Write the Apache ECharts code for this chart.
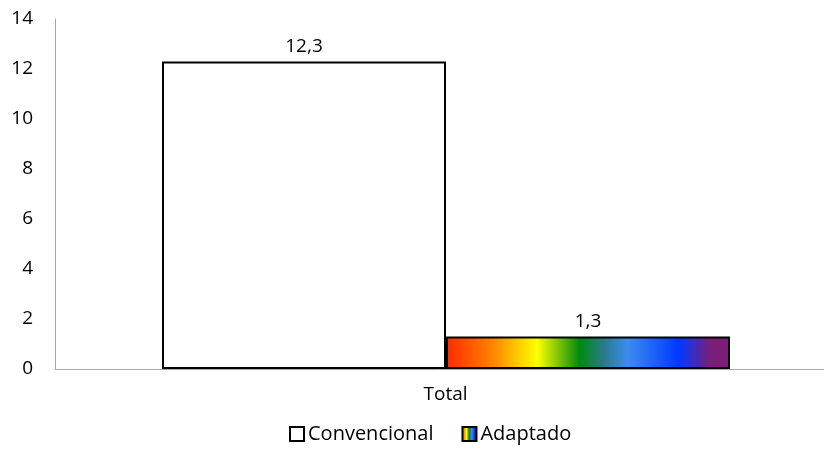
<!DOCTYPE html>
<html><head><meta charset="utf-8">
<script src="https://cdn.jsdelivr.net/npm/echarts@6/dist/echarts.min.js"></script>
<style>html,body{margin:0;padding:0;background:#fff}#c{width:824px;height:450px}</style>
</head><body><div id="c"></div>
<script>
var categories = ['Total'];
var convencional = [12.3];
var adaptado = [1.3];
var seriesNames = ['Convencional', 'Adaptado'];
var spacer = [null];

var rainbow = new echarts.graphic.LinearGradient(0, 0, 1, 0, [
  {offset: 0, color: '#ff2a00'},
  {offset: 0.15, color: '#ff7a00'},
  {offset: 0.32, color: '#ffff00'},
  {offset: 0.47, color: '#008a10'},
  {offset: 0.56, color: '#2a7a90'},
  {offset: 0.64, color: '#3c8cf0'},
  {offset: 0.82, color: '#0038ff'},
  {offset: 0.93, color: '#7a1e7a'},
  {offset: 1, color: '#7a1e7a'}
]);
var font = 'Open Sans, Liberation Sans, sans-serif';
var fs = 19;
var fmt = function (p) { return String(p.value).replace('.', ','); };
var chart = echarts.init(document.getElementById('c'));
chart.setOption({
  animation: false,
  grid: {left: 55, right: 0, top: 19, bottom: 81, containLabel: false},
  legend: {
    data: seriesNames, bottom: 1, left: 284, icon: 'rect', itemWidth: 14, itemHeight: 14, itemGap: 28,
    textStyle: {fontFamily: font, fontSize: 20, color: '#000', padding: [0, 0, 0, -1]}
  },
  xAxis: {
    type: 'category', data: categories,
    axisLine: {lineStyle: {color: '#a6a6a6', width: 1}}, axisTick: {show: false},
    axisLabel: {fontFamily: font, fontSize: fs, color: '#000', margin: 16, padding: [0, 0, 0, 12]}
  },
  yAxis: {
    type: 'value', min: 0, max: 14, interval: 2,
    axisLine: {show: true, lineStyle: {color: '#a6a6a6', width: 1}}, axisTick: {show: false},
    splitLine: {show: false},
    axisLabel: {fontFamily: font, fontSize: fs, color: '#000', margin: 22}
  },
  series: [
    {name: 'spacer', type: 'bar', data: spacer, barWidth: 13, barGap: '0%', silent: true,
     itemStyle: {color: 'rgba(0,0,0,0)'}},
    {name: seriesNames[0], type: 'bar', data: convencional, barWidth: 284,
     itemStyle: {color: '#fff', borderColor: '#000', borderWidth: 2},
     label: {show: true, position: 'top', formatter: fmt, fontFamily: font, fontSize: fs, color: '#000', distance: 5}},
    {name: seriesNames[1], type: 'bar', data: adaptado, barWidth: 284,
     itemStyle: {color: rainbow, borderColor: '#000', borderWidth: 2},
     label: {show: true, position: 'top', formatter: fmt, fontFamily: font, fontSize: fs, color: '#000', distance: 5}}
  ]
});
</script></body></html>
